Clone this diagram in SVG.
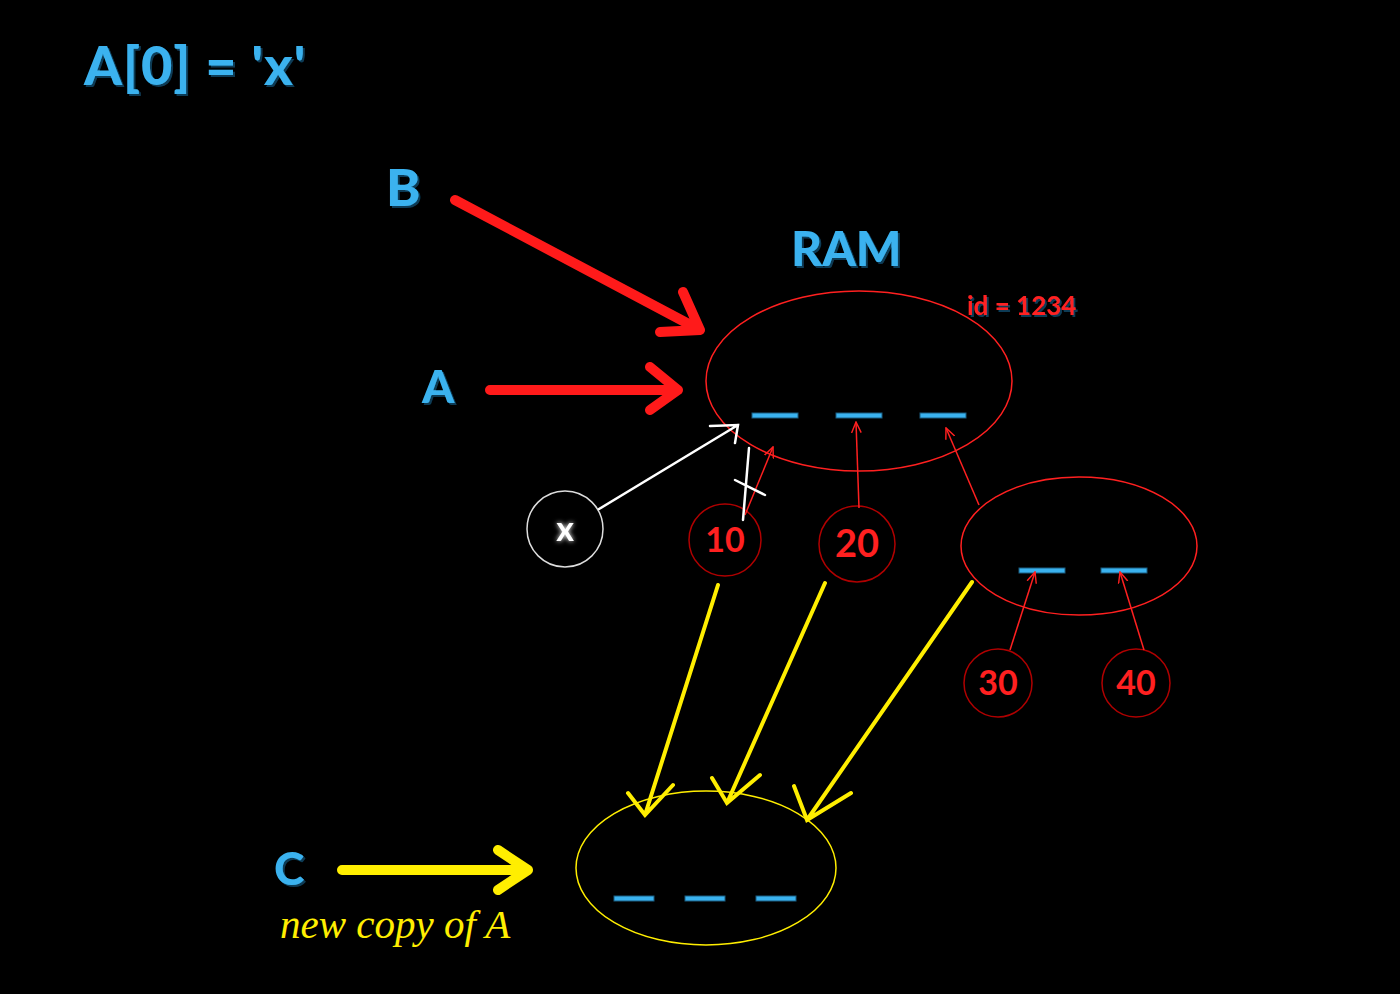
<svg xmlns="http://www.w3.org/2000/svg" width="1400" height="994" viewBox="0 0 1400 994">
<defs>
<style>
.lbl{font-family:Lato,"Liberation Sans",sans-serif;font-weight:900;fill:#3ab2ef;}
.num{font-family:Lato,"Liberation Sans",sans-serif;font-weight:bold;fill:#ff2020;text-anchor:middle;}
.dash{fill:#3ab2ef;stroke:#1a5c80;stroke-width:1;}
.big{fill:none;stroke-linecap:round;stroke-linejoin:round;stroke-width:10;}
.thin{fill:none;stroke:#ff2020;stroke-width:1.5;}
.yel{fill:none;stroke:#ffee00;stroke-width:4;stroke-linecap:round;}
</style>
<filter id="sh" x="-10%" y="-10%" width="130%" height="130%">
<feDropShadow dx="2" dy="2" stdDeviation="0.5" flood-color="#103a55"/>
</filter>
<filter id="glow" x="-50%" y="-50%" width="200%" height="200%">
<feGaussianBlur stdDeviation="2.5" result="b"/>
<feMerge><feMergeNode in="b"/><feMergeNode in="SourceGraphic"/></feMerge>
</filter>
<marker id="rh" viewBox="0 0 10 10" refX="9" refY="5" markerWidth="12" markerHeight="12" orient="auto" markerUnits="userSpaceOnUse">
<path d="M0,1 L9,5 L0,9" fill="none" stroke="#ff2020" stroke-width="1.2"/>
</marker>
</defs>
<rect width="1400" height="994" fill="#000"/>

<g id="title"><text class="lbl" x="84" y="85" font-size="54" letter-spacing="1" filter="url(#sh)">A[0] = 'x'</text></g>
<g id="label-B"><text class="lbl" x="386" y="206" font-size="52" filter="url(#sh)">B</text></g>
<g id="label-A"><text class="lbl" x="422" y="403" font-size="46" filter="url(#sh)">A</text></g>
<g id="label-RAM"><text class="lbl" x="791" y="266" font-size="48" filter="url(#sh)">RAM</text></g>
<g id="label-C"><text class="lbl" x="274" y="885" font-size="46" filter="url(#sh)">C</text></g>
<g id="label-newcopy"><text x="280" y="938" font-size="41" font-style="italic" font-family="'Liberation Serif','DejaVu Serif',serif" fill="#ffee00">new copy of A</text></g>

<g id="ram-list">
<ellipse cx="859" cy="381" rx="153" ry="90" fill="none" stroke="#ff2020" stroke-width="1.5"/>
<rect class="dash" x="752" y="413" width="46" height="5"/>
<rect class="dash" x="836" y="413" width="46" height="5"/>
<rect class="dash" x="920" y="413" width="46" height="5"/>
<text x="967" y="315" font-size="26" font-family="Lato,'Liberation Sans',sans-serif" font-weight="bold" fill="#ff2020" filter="url(#sh)">id = 1234</text>
</g>

<g id="sub-list">
<ellipse cx="1079" cy="546" rx="118" ry="69" fill="none" stroke="#ff2020" stroke-width="1.5"/>
<rect class="dash" x="1019" y="568" width="46" height="5"/>
<rect class="dash" x="1101" y="568" width="46" height="5"/>
</g>

<g id="copy-list">
<ellipse cx="706" cy="868" rx="130" ry="77" fill="none" stroke="#ffee00" stroke-width="1.5"/>
<rect class="dash" x="614" y="896" width="40" height="5"/>
<rect class="dash" x="685" y="896" width="40" height="5"/>
<rect class="dash" x="756" y="896" width="40" height="5"/>
</g>

<g id="node-x">
<circle cx="565" cy="529" r="38" fill="#000" stroke="#ddd" stroke-width="1.5"/>
<text x="565" y="541" font-size="34" text-anchor="middle" font-family="Lato,'Liberation Sans',sans-serif" font-weight="bold" fill="#fff" filter="url(#glow)">x</text>
</g>
<g id="node-10">
<circle cx="725" cy="540" r="36" fill="none" stroke="#b00000" stroke-width="1.5"/>
<text class="num" x="725" y="552" font-size="34">10</text>
</g>
<g id="node-20">
<circle cx="857" cy="544" r="38" fill="none" stroke="#b00000" stroke-width="1.5"/>
<text class="num" x="857" y="557" font-size="38">20</text>
</g>
<g id="node-30">
<circle cx="998" cy="683" r="34" fill="none" stroke="#b00000" stroke-width="1.5"/>
<text class="num" x="998" y="695" font-size="34">30</text>
</g>
<g id="node-40">
<circle cx="1136" cy="683" r="34" fill="none" stroke="#b00000" stroke-width="1.5"/>
<text class="num" x="1136" y="695" font-size="34">40</text>
</g>

<g id="connectors">
<path class="big" stroke="#ff1a1a" d="M455,200 L700,330 M683,292 L700,330 L660,332"/>
<path class="big" stroke="#ff1a1a" d="M490,390 L678,390 M650,367 L678,390 L650,410"/>
<path class="big" stroke="#ffee00" d="M342,870 L528,870 M498,850 L528,870 L498,890"/>
<line class="thin" x1="745" y1="515" x2="773" y2="447" marker-end="url(#rh)"/>
<line class="thin" x1="859" y1="508" x2="856" y2="422" marker-end="url(#rh)"/>
<line class="thin" x1="979" y1="505" x2="946" y2="428" marker-end="url(#rh)"/>
<line class="thin" x1="1010" y1="650" x2="1035" y2="572" marker-end="url(#rh)"/>
<line class="thin" x1="1144" y1="650" x2="1120" y2="572" marker-end="url(#rh)"/>
<path d="M599,509 L738,425 M735,443 L738,425 L710,426" fill="none" stroke="#fff" stroke-width="2.5" stroke-linecap="round"/>
<path d="M749,448 L743,520 M735,480 L765,495" fill="none" stroke="#fff" stroke-width="2.5" stroke-linecap="round"/>
<path class="yel" d="M718,585 L645,815 M628,793 L645,815 L673,785"/>
<path class="yel" d="M825,583 L727,803 M712,778 L727,803 L760,775"/>
<path class="yel" d="M972,582 L807,820 M794,786 L807,820 L851,793"/>
</g>
</svg>
